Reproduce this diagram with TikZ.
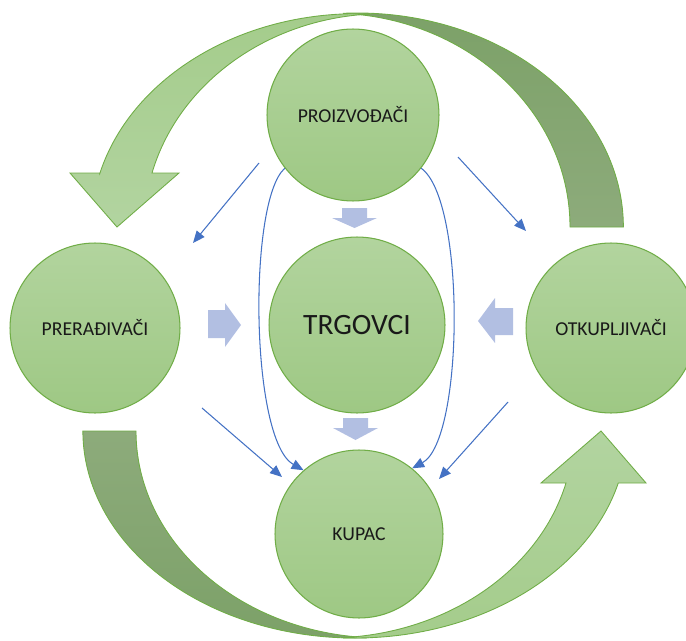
\documentclass[tikz,border=0pt]{standalone}
\usepackage{fontspec}
\setmainfont{Carlito}
\usepackage{xcolor}
\usepackage{tikz}
\usetikzlibrary{arrows.meta}

\definecolor{leaflight}{RGB}{178,212,158}
\definecolor{leafmid}{RGB}{158,200,132}
\definecolor{leafedge}{RGB}{112,173,71}
\definecolor{leafdark}{RGB}{124,161,104}
\definecolor{leafdarklt}{RGB}{141,171,123}
\definecolor{bandlight}{RGB}{178,212,160}
\definecolor{bandmid}{RGB}{164,204,139}
\definecolor{blockblue}{RGB}{178,191,226}
\definecolor{linkblue}{RGB}{68,114,196}

\begin{document}
\begin{tikzpicture}[x=0.02cm, y=0.02cm, >={Triangle[length=2.4mm,width=2mm]},
    circ/.style={circle, draw=leafedge, line width=0.6pt, top color=leaflight, bottom color=leafmid,
      font=\fontsize{11.2}{13}\selectfont, text=black!90, inner sep=0pt},
    back/.style={draw=leafedge, line width=0.5pt},
    front/.style={draw=leafedge, line width=0.5pt},
    blk/.style={fill=blockblue},
    conn/.style={->, draw=linkblue, line width=0.6pt}]
    \useasboundingbox (0,0) rectangle (686,640);

    \draw [back, top color=leafdark, bottom color=leafdarklt] (623,413) -- (570,413)
      arc [start angle=0, end angle=86.9, x radius=240, y radius=214]
      arc [start angle=93.1, end angle=0, x radius=266, y radius=214] -- cycle;
    \draw [front, top color=bandmid, bottom color=bandlight] (99.6,467) -- (70,467) -- (117,413) -- (179,467) -- (152,467)
      arc [start angle=165.2, end angle=93.1, x radius=240, y radius=214]
      arc [start angle=87.0, end angle=165.4, x radius=266, y radius=214] -- cycle;

    \draw [back, top color=leafdarklt, bottom color=leafdark] (83,209) -- (136,209)
      arc [start angle=180, end angle=267.0, x radius=246, y radius=207]
      arc [start angle=273.0, end angle=180, x radius=272, y radius=207] -- cycle;
    \draw [front, top color=bandlight, bottom color=bandmid] (618.3,157) -- (646,157) -- (601,209) -- (541,157) -- (566,157)
      arc [start angle=345.45, end angle=273.0, x radius=246, y radius=207]
      arc [start angle=267.0, end angle=345.45, x radius=272, y radius=207] -- cycle;

    \node [circ, minimum size=3.44cm] (proiz) at (353,525) {PROIZVOĐAČI};
    \node [circ, minimum size=3.52cm, font=\fontsize{16.8}{20}\selectfont] (trg) at (357,315) {TRGOVCI};
    \node [circ, minimum size=3.4cm] (prer) at (95,312) {PRERAĐIVAČI};
    \node [circ, minimum size=3.4cm] (otk) at (611,312) {OTKUPLJIVAČI};
    \node [circ, minimum size=3.36cm] (kupac) at (359,106) {KUPAC};

    \fill [blk] (342,432) -- (367,432) -- (367,422) -- (377,422) -- (354.5,412) -- (332,422) -- (342,422) -- cycle;
    \fill [blk] (343,222) -- (368,222) -- (368,212) -- (378,212) -- (355.5,200) -- (333,212) -- (343,212) -- cycle;
    \fill [blk] (208,330) -- (225,330) -- (225,337) -- (241,315) -- (225,293) -- (225,302) -- (208,302) -- cycle;
    \fill [blk] (513,332) -- (495,332) -- (495,342) -- (478,319) -- (495,297) -- (495,305) -- (513,305) -- cycle;

    \coordinate (pl1) at (259,477);
    \coordinate (pl2) at (193,397);
    \coordinate (pr1) at (458,483);
    \coordinate (pr2) at (526,409);
    \coordinate (kl1) at (202,232);
    \coordinate (kl2) at (282,163);
    \coordinate (kr1) at (508,238);
    \coordinate (kr2) at (439,161);
    \draw [conn] (pl1) -- (pl2);
    \draw [conn] (pr1) -- (pr2);
    \draw [conn] (kl1) -- (kl2);
    \draw [conn] (kr1) -- (kr2);
    \draw [conn] (proiz.218) .. controls (248,440) and (250,200) .. (kupac.131);
    \draw [conn] (proiz.322) .. controls (466,440) and (464,200) .. (kupac.51);
\end{tikzpicture}
\end{document}
